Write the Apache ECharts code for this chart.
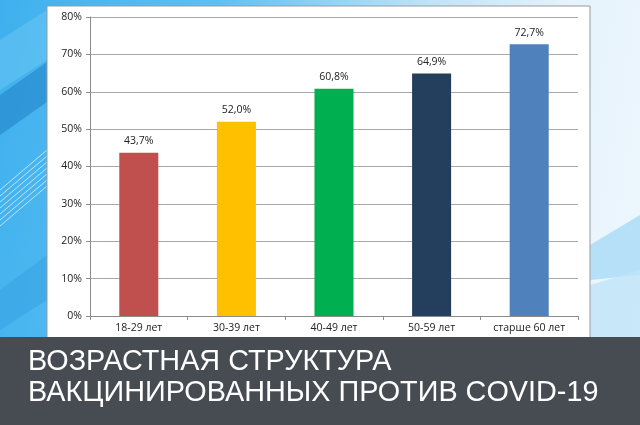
<!DOCTYPE html>
<html><head><meta charset="utf-8">
<script src="https://cdn.jsdelivr.net/npm/echarts@6/dist/echarts.min.js"></script>
<style>
html,body{margin:0;padding:0;}
#bg{position:absolute;left:0;top:0;width:640px;height:425px;overflow:hidden;
background:linear-gradient(100deg,#3fb0ee 0%,#5cc0f2 30%,#bfe3f8 60%,#e6f3fc 80%,#eef7fd 100%);}
#c{position:absolute;left:0;top:0;width:640px;height:425px;}
</style></head>
<body>
<div id="bg"></div>
<div id="c"></div>
<script>
var categories = ['18-29 лет','30-39 лет','40-49 лет','50-59 лет','старше 60 лет'];
var values = [43.7, 52.0, 60.8, 64.9, 72.7];
var barColors = ['#c0504d','#ffc000','#00b050','#243f5e','#4f81bd'];
var titleLines = ['ВОЗРАСТНАЯ СТРУКТУРА','ВАКЦИНИРОВАННЫХ ПРОТИВ COVID-19'];

var chart = echarts.init(document.getElementById('c'), null, {renderer:'canvas'});
var fontFam = '"Open Sans", "DejaVu Sans", sans-serif';
var stripes = [];
for (var k = 0; k < 7; k++) {
  stripes.push({type:'line', z:-9, shape:{x1:0, y1:190+k*6, x2:47, y2:150+k*6}, style:{stroke:'#d8f0fc', lineWidth:1, opacity:0.8}});
}
chart.setOption({
  animation:false,
  graphic:[
    {type:'polygon', z:-10, shape:{points:[[0,95],[47,62],[47,102],[0,135]]}, style:{fill:'#2a90d2', opacity:0.8}},
    {type:'polygon', z:-10, shape:{points:[[0,40],[47,10],[47,60],[0,90]]}, style:{fill:'#6cc8f4', opacity:0.5}},
    {type:'polygon', z:-10, shape:{points:[[0,290],[47,255],[47,300],[0,330]]}, style:{fill:'#3aa6e6', opacity:0.7}},
    {type:'polygon', z:-10, shape:{points:[[590,245],[640,215],[640,275],[590,280]]}, style:{fill:'#a8dbf6', opacity:0.8}},
    {type:'polygon', z:-10, shape:{points:[[590,285],[640,270],[640,337],[590,337]]}, style:{fill:'#bfe5f9', opacity:0.8}}
  ].concat(stripes).concat([
    {type:'rect', z:-5, shape:{x:47, y:6, width:543, height:332}, style:{fill:'#ffffff', stroke:'#9a9a9a', lineWidth:1}},
    {type:'rect', z:-4, shape:{x:0, y:337, width:640, height:88}, style:{fill:'#474c52'}},
    {type:'text', left:28, top:348, z:10, style:{text:titleLines[0], fill:'#ffffff', font:'28.8px "Liberation Sans", Arial, sans-serif'}},
    {type:'text', left:28, top:379, z:10, style:{text:titleLines[1], fill:'#ffffff', font:'28.8px "Liberation Sans", Arial, sans-serif'}}
  ]),
  grid:{left:90, right:62, top:17, bottom:109, containLabel:false},
  xAxis:{
    type:'category', data:categories,
    axisLine:{lineStyle:{color:'#8c8c8c'}},
    axisTick:{show:true, alignWithLabel:false, length:4, lineStyle:{color:'#8c8c8c'}},
    axisLabel:{color:'#222', fontSize:10.5, fontFamily:fontFam, margin:7}
  },
  yAxis:{
    type:'value', min:0, max:80, interval:10,
    axisLine:{show:true, lineStyle:{color:'#8c8c8c'}},
    axisTick:{show:true, length:4, inside:false, lineStyle:{color:'#8c8c8c'}},
    splitLine:{lineStyle:{color:'#a8a8a8'}},
    axisLabel:{color:'#222', fontSize:10.5, fontFamily:fontFam, margin:8, formatter:'{value}%'}
  },
  series:[{
    type:'bar', data:values.map(function(v,i){return {value:v, itemStyle:{color:barColors[i]}};}),
    barWidth:'40%',
    label:{show:true, position:'top', distance:6, color:'#222', fontSize:10.5, fontFamily:fontFam,
      formatter:function(p){return p.value.toFixed(1).replace('.',',')+'%';}}
  }]
});
</script>
</body></html>
